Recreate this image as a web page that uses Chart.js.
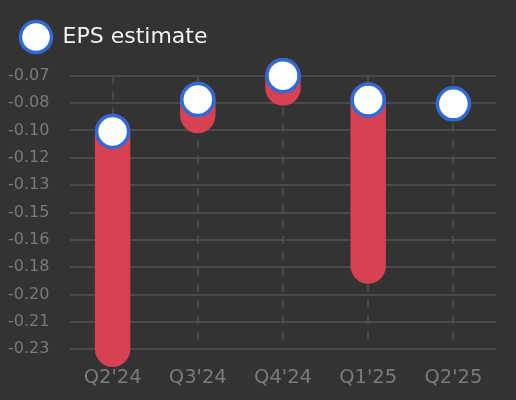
<!DOCTYPE html>
<html><head><meta charset="utf-8">
<style>html,body{margin:0;padding:0;background:#333333;}#wrap{width:516px;height:400px;position:relative}</style>
<script src="https://cdn.jsdelivr.net/npm/chart.js@4.4.0/dist/chart.umd.min.js"></script>
</head><body><div id="wrap"><canvas id="c"></canvas></div>
<script>
const quarters = ["Q2'24", "Q3'24", "Q4'24", "Q1'25", "Q2'25"];
const epsEstimate = [-0.1000, -0.0809, -0.0667, -0.0812, -0.0835];
const epsActual = [-0.2300, -0.0905, -0.0740, -0.1803, null];
const yTickCount = 11;

const rangePoints = [];
quarters.forEach((q, i) => {
  if (epsActual[i] !== null) {
    rangePoints.push({x: q, y: epsEstimate[i]}, {x: q, y: epsActual[i]}, {x: q, y: null});
  }
});
const allVals = epsEstimate.concat(epsActual.filter(v => v !== null));
const yMin = Math.min(...allVals);
const yMax = Math.max(...allVals);

const legendSpacer = {
  id: 'legendSpacer',
  beforeInit(chart) {
    const orig = chart.legend.fit;
    chart.legend.fit = function () { orig.call(this); this.height += 17.7; };
  }
};

new Chart(document.getElementById('c'), {
  type: 'line',
  data: {
    labels: quarters,
    datasets: [
      {
        label: 'EPS estimate',
        data: epsEstimate,
        showLine: false,
        pointStyle: 'circle',
        pointRadius: 16,
        pointHoverRadius: 16,
        pointBackgroundColor: '#ffffff',
        pointBorderColor: '#2f6ad6',
        pointBorderWidth: 3.5,
        backgroundColor: '#ffffff',
        borderColor: '#2f6ad6',
        clip: false,
        order: 0
      },
      {
        label: 'range',
        data: rangePoints,
        borderColor: '#d84053',
        backgroundColor: '#d84053',
        borderWidth: 35.4,
        borderCapStyle: 'round',
        pointRadius: 0,
        pointHoverRadius: 0,
        spanGaps: false,
        clip: false,
        order: 1
      }
    ]
  },
  options: {
    responsive: true,
    maintainAspectRatio: false,
    animation: false,
    layout: {autoPadding: false, padding: {top: 13.55, left: 8, right: 20, bottom: 10.8}},
    plugins: {
      tooltip: {enabled: false},
      legend: {
        display: true,
        position: 'top',
        align: 'start',
        labels: {
          filter: (item) => item.datasetIndex === 0,
          usePointStyle: true,
          pointStyle: 'circle',
          pointStyleWidth: 31.1,
          padding: 12.45,
          color: '#f2f2f2',
          font: {family: 'DejaVu Sans', size: 22}
        }
      }
    },
    scales: {
      x: {
        offset: true,
        grid: {display: true, offset: false, color: '#4a4a4a', lineWidth: 2, drawTicks: true, tickLength: 16.5, tickColor: 'rgba(0,0,0,0)'},
        border: {display: false, dash: [8, 8]},
        ticks: {color: '#7a7a7a', padding: 0, font: {family: 'DejaVu Sans', size: 19.5}}
      },
      y: {
        min: yMin,
        max: yMax,
        grid: {color: '#4a4a4a', lineWidth: 2, drawTicks: true, tickLength: 20.6, tickColor: 'rgba(0,0,0,0)'},
        border: {display: false},
        ticks: {
          count: yTickCount,
          color: '#7a7a7a',
          padding: 0,
          font: {family: 'DejaVu Sans', size: 16},
          callback: (v) => Number(v).toFixed(2)
        }
      }
    }
  },
  plugins: [legendSpacer]
});
</script>
</body></html>
